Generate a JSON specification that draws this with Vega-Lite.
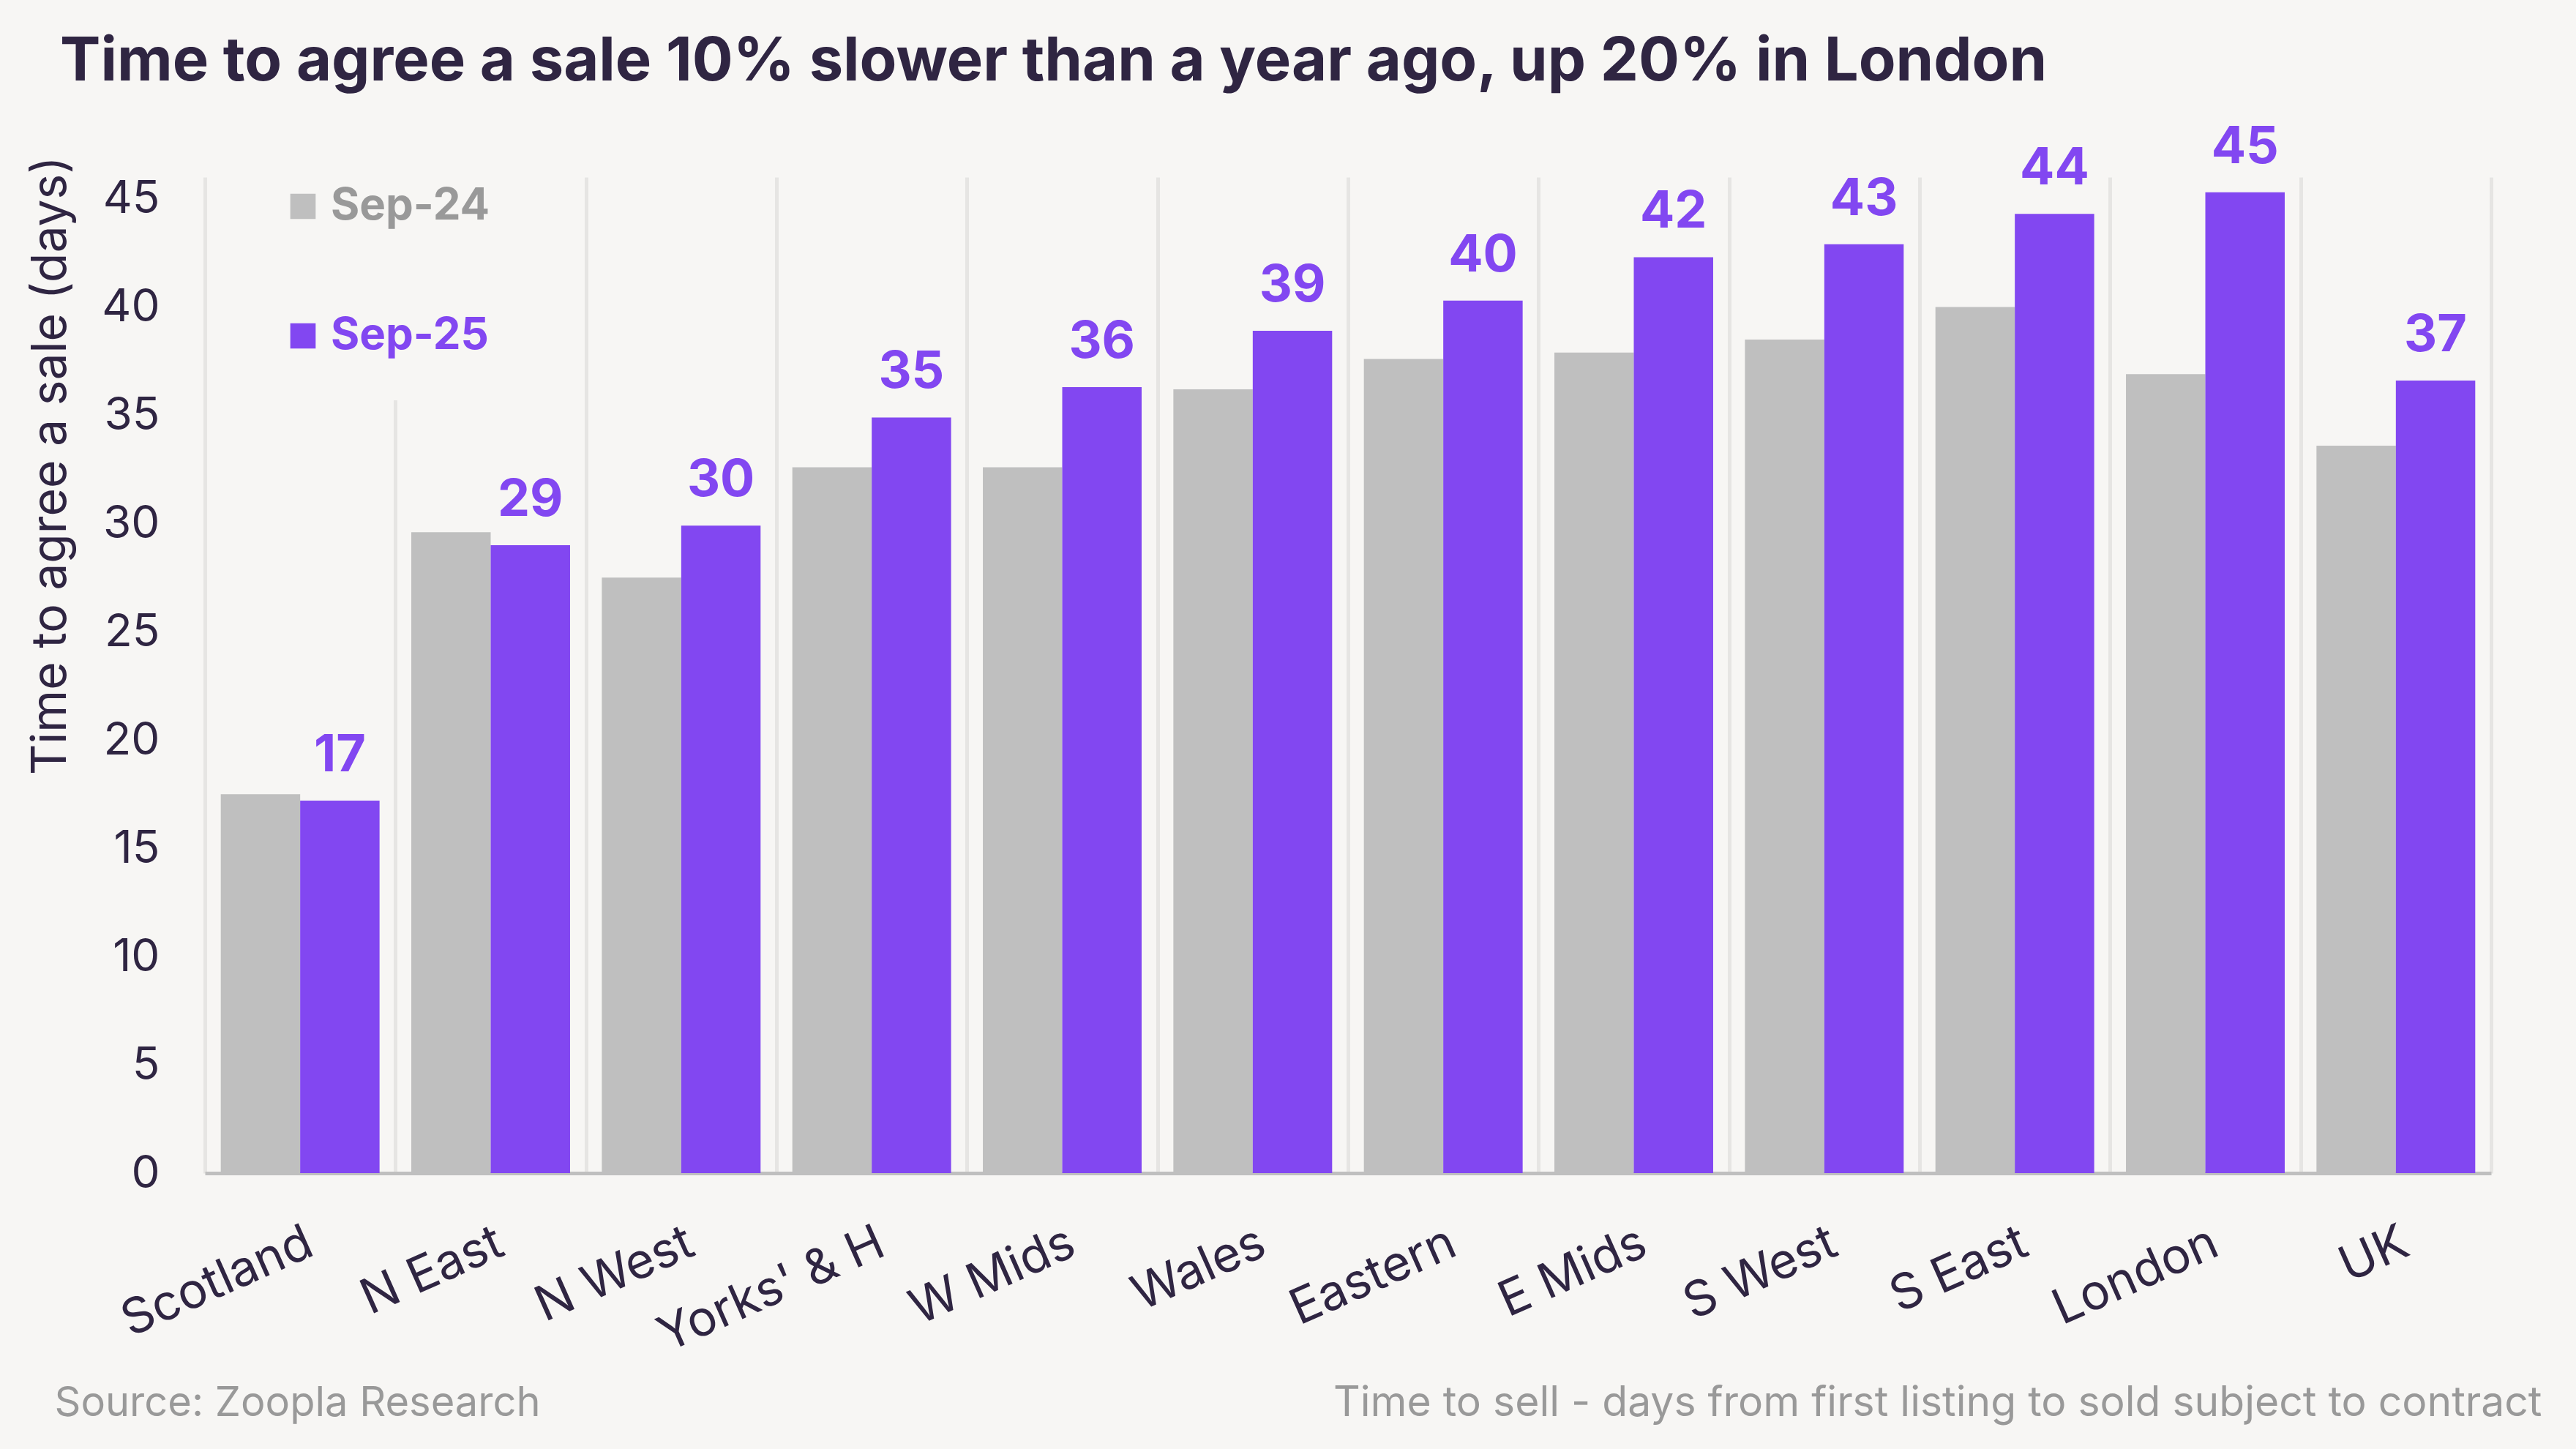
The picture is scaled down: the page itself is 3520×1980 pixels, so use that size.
{
  "$schema": "https://vega.github.io/schema/vega-lite/v6.json",
  "autosize": {"type": "none"},
  "width": 3124,
  "height": 1361,
  "padding": {"left": 280, "top": 242, "right": 116, "bottom": 377},
  "background": "#f7f6f4",
  "config": {"view": {"stroke": null}, "font": "Inter"},
  "title": {
    "text": "Time to agree a sale 10% slower than a year ago, up 20% in London",
    "anchor": "start",
    "frame": "group",
    "dx": -198,
    "dy": -36,
    "fontSize": 83,
    "fontWeight": "bold",
    "color": "#2f2542"
  },
  "data": {
    "values": [
      {"region": "Scotland", "period": "Sep-24", "days": 17.5},
      {"region": "Scotland", "period": "Sep-25", "days": 17.2},
      {"region": "N East", "period": "Sep-24", "days": 29.6},
      {"region": "N East", "period": "Sep-25", "days": 29.0},
      {"region": "N West", "period": "Sep-24", "days": 27.5},
      {"region": "N West", "period": "Sep-25", "days": 29.9},
      {"region": "Yorks' & H", "period": "Sep-24", "days": 32.6},
      {"region": "Yorks' & H", "period": "Sep-25", "days": 34.9},
      {"region": "W Mids", "period": "Sep-24", "days": 32.6},
      {"region": "W Mids", "period": "Sep-25", "days": 36.3},
      {"region": "Wales", "period": "Sep-24", "days": 36.2},
      {"region": "Wales", "period": "Sep-25", "days": 38.9},
      {"region": "Eastern", "period": "Sep-24", "days": 37.6},
      {"region": "Eastern", "period": "Sep-25", "days": 40.3},
      {"region": "E Mids", "period": "Sep-24", "days": 37.9},
      {"region": "E Mids", "period": "Sep-25", "days": 42.3},
      {"region": "S West", "period": "Sep-24", "days": 38.5},
      {"region": "S West", "period": "Sep-25", "days": 42.9},
      {"region": "S East", "period": "Sep-24", "days": 40.0},
      {"region": "S East", "period": "Sep-25", "days": 44.3},
      {"region": "London", "period": "Sep-24", "days": 36.9},
      {"region": "London", "period": "Sep-25", "days": 45.3},
      {"region": "UK", "period": "Sep-24", "days": 33.6},
      {"region": "UK", "period": "Sep-25", "days": 36.6}
    ]
  },
  "layer": [
    {
      "mark": {"type": "bar"},
      "encoding": {
        "x": {
          "field": "region", "type": "nominal", "sort": null,
          "scale": {"paddingInner": 0, "paddingOuter": 0},
          "axis": {
            "orient": "bottom",
            "title": "Source: Zoopla Research",
            "titleAnchor": "start", "titleAlign": "left",
            "titleX": -206, "titleY": 331, "titleBaseline": "alphabetic",
            "titleFontSize": 56, "titleFontWeight": "normal", "titleColor": "#999999",
            "labelAngle": -24, "labelAlign": "right", "labelBaseline": "top",
            "labelPadding": 62, "labelFontSize": 67, "labelColor": "#2f2542",
            "labelLimit": 0,
            "ticks": false,
            "domainColor": "#bfbfbf", "domainWidth": 5,
            "grid": true, "gridColor": "#e6e5e3", "gridWidth": 5,
            "tickBand": "extent"
          }
        },
        "xOffset": {
          "field": "period",
          "scale": {"domain": ["Sep-24", "Sep-25"], "paddingInner": 0, "paddingOuter": 0.2}
        },
        "y": {
          "field": "days", "type": "quantitative",
          "scale": {"domain": [0, 46], "nice": false},
          "axis": {
            "title": "Time to agree a sale (days)",
            "values": [0, 5, 10, 15, 20, 25, 30, 35, 40, 45],
            "grid": false, "domain": false, "ticks": false,
            "labelPadding": 62, "labelFontSize": 62, "labelColor": "#2f2542",
            "titleFontSize": 66, "titleFontWeight": "normal", "titleColor": "#2f2542",
            "titleAnchor": "end", "titleAlign": "right",
            "titleX": -177, "titleY": -29, "titleBaseline": "bottom"
          }
        },
        "color": {
          "field": "period", "type": "nominal",
          "scale": {"domain": ["Sep-24", "Sep-25"], "range": ["#bfbfbf", "#8247f1"]},
          "legend": {
            "orient": "none", "legendX": 46, "legendY": -48,
            "title": null,
            "symbolType": "square", "symbolSize": 1200, "symbolStrokeWidth": 0,
            "labelFontSize": 60, "labelFontWeight": "bold", "labelOffset": 8,
            "labelLimit": 0,
            "rowPadding": 117, "padding": 58, "fillColor": "#f7f6f4",
            "encode": {
              "labels": {
                "update": {
                  "fill": {"signal": "datum.value === 'Sep-24' ? '#999999' : '#8247f1'"}
                }
              }
            }
          }
        }
      }
    },
    {
      "transform": [{"filter": "datum.period == 'Sep-25'"}],
      "mark": {
        "type": "text", "baseline": "alphabetic", "dy": -40,
        "fontSize": 70, "fontWeight": "bold", "color": "#8247f1"
      },
      "encoding": {
        "x": {
          "field": "region", "type": "nominal", "sort": null,
          "axis": {
            "orient": "bottom",
            "title": "Time to sell - days from first listing to sold subject to contract",
            "labels": false, "ticks": false, "domain": false, "grid": false,
            "titleAnchor": "start", "titleAlign": "right",
            "titleX": 3193, "titleY": 331, "titleBaseline": "alphabetic",
            "titleFontSize": 57, "titleFontWeight": "normal", "titleColor": "#999999"
          }
        },
        "xOffset": {"field": "period"},
        "y": {"field": "days", "type": "quantitative"},
        "text": {"field": "days", "type": "quantitative", "format": ".0f"}
      }
    }
  ],
  "resolve": {"axis": {"x": "independent"}}
}
